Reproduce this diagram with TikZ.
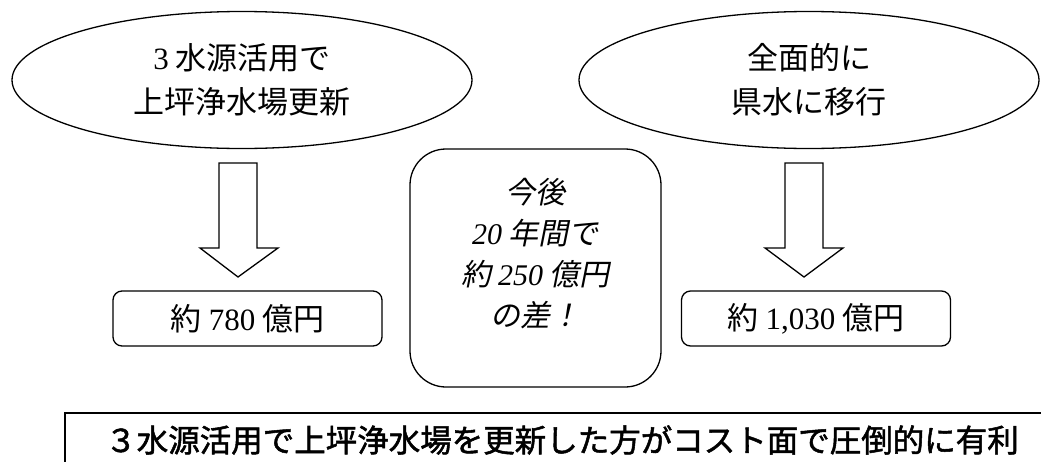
\documentclass[tikz,border=0pt]{standalone}
\usepackage{fontspec}
\newfontfamily\cjk{Noto Sans CJK JP}
\newfontfamily\cjkit{Noto Sans CJK JP}[FakeSlant=0.2]
\newfontfamily\cjkbold{Noto Sans CJK JP}[FakeBold=1.6]
\newfontfamily\sernum{Liberation Serif}
\usetikzlibrary{shapes.geometric}
\tikzset{
  oval/.style={draw, ellipse, minimum width=460pt, minimum height=137pt, inner sep=0pt, align=center,
    font=\cjk\fontsize{31}{44}\selectfont},
  costbox/.style={draw, rounded corners=9pt, minimum width=269pt, minimum height=55pt, inner sep=0pt,
    font=\cjk\fontsize{31}{38}\selectfont},
  diffbox/.style={draw, rounded corners=36pt, minimum width=251pt, minimum height=238pt, inner sep=0pt},
  difftext/.style={align=center, inner sep=0pt, font=\cjkit\fontsize{30}{41}\selectfont},
  blockarrow/.style={draw, line join=miter, fill=white},
  concl/.style={inner sep=0pt, font=\cjkbold\fontsize{31.5}{38}\selectfont}
}
\begin{document}
\begin{tikzpicture}[x=1pt,y=-1pt,line width=1.3pt]
\useasboundingbox (0,0) rectangle (1041,461);
% ellipses
\node[oval] (e1) at (242,80) {{\sernum 3} 水源活用で\\上坪浄水場更新};
\node[oval] (e2) at (809,80) {全面的に\\県水に移行};
% cost boxes
\node[costbox] (b1) at (247.5,318.5) {約 {\sernum 780} 億円};
\node[costbox] (b2) at (816,318.5) {約 {\sernum 1,030} 億円};
% block arrows
\draw[blockarrow] (219,163) -- (257,163) -- (257,248) -- (278,248) -- (238,277) -- (200,248) -- (219,248) -- cycle;
\draw[blockarrow] (785,163) -- (823,163) -- (823,248) -- (843,248) -- (804,277) -- (765,248) -- (785,248) -- cycle;
% difference box
\node[diffbox] (d) at (535.5,268) {};
\node[difftext] (dt) at (535.5,254) {今後\\{\sernum\itshape 20} 年間で\\約 {\sernum\itshape 250} 億円\\の差！};
% conclusion box (extends past the picture edge)
\coordinate (cb1) at (65,470);
\coordinate (cb2) at (65,413);
\coordinate (cb3) at (1045,413);
\draw (cb1) -- (cb2) -- (cb3);
\node[concl] (c) at (562,440) {３水源活用で上坪浄水場を更新した方がコスト面で圧倒的に有利};
\end{tikzpicture}
\end{document}
